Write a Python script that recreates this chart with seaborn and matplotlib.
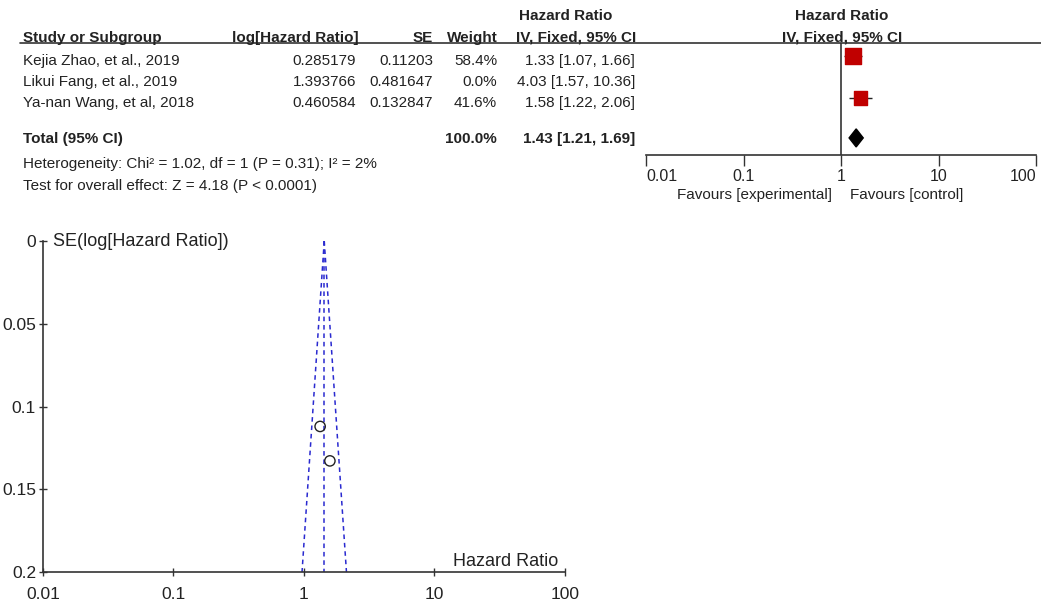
import numpy as np
import pandas as pd
from matplotlib import pyplot as plt
import seaborn as sns

# Study data
studies = ["Kejia Zhao, et al., 2019", "Likui Fang, et al., 2019", "Ya-nan Wang, et al, 2018"]
log_hr = [0.285179, 1.393766, 0.460584]
se = [0.11203, 0.481647, 0.132847]
weights = [58.4, 0.0, 41.6]
hr = [1.33, 4.03, 1.58]
ci_lo = [1.07, 1.57, 1.22]
ci_hi = [1.66, 10.36, 2.06]

# Pooled estimate
total_hr = 1.43
total_lo = 1.21
total_hi = 1.69
total_weight = 100.0
heterogeneity = "Heterogeneity: Chi\u00b2 = 1.02, df = 1 (P = 0.31); I\u00b2 = 2%"
overall_effect = "Test for overall effect: Z = 4.18 (P < 0.0001)"

scale_ticks = [0.01, 0.1, 1, 10, 100]
scale_labels = ["0.01", "0.1", "1", "10", "100"]
se_ticks = [0, 0.05, 0.1, 0.15, 0.2]
se_labels = ["0", "0.05", "0.1", "0.15", "0.2"]

sns.set_style("white")
plt.rcParams['font.family'] = ['Liberation Sans', 'DejaVu Sans']
txt = '#222222'

fig = plt.figure(figsize=(10.41, 6.02), dpi=100)

## Forest plot (top)
rows = [0, 1, 2]
total_row = 3.9
ylims = (4.714, -0.619)

ax_tab = fig.add_axes([0, 0.7425, 1, 0.186])
ax_tab.set_xlim(0, 1041)
ax_tab.set_ylim(*ylims)
ax_tab.axis('off')

ax_f = fig.add_axes([0.6206, 0.7425, 0.3746, 0.186])
ax_f.patch.set_alpha(0)
ax_f.set_xscale('log')
ax_f.set_xlim(0.01, 100)
ax_f.set_ylim(*ylims)

fs = 11
bold = dict(fontsize=fs, fontweight='bold', color=txt)
norm = dict(fontsize=fs, color=txt)

# headers
ax_tab.text(566, -1.9, "Hazard Ratio", ha='center', va='center', **bold)
ax_tab.text(23, -0.86, "Study or Subgroup", ha='left', va='center', **bold)
ax_tab.text(359, -0.86, "log[Hazard Ratio]", ha='right', va='center', **bold)
ax_tab.text(433, -0.86, "SE", ha='right', va='center', **bold)
ax_tab.text(498, -0.86, "Weight", ha='right', va='center', **bold)
ax_tab.text(576, -0.86, "IV, Fixed, 95% CI", ha='center', va='center', **bold)
ax_tab.text(842, -1.9, "Hazard Ratio", ha='center', va='center', **bold)
ax_tab.text(842, -0.86, "IV, Fixed, 95% CI", ha='center', va='center', **bold)
ax_tab.plot([20, 1041], [-0.619, -0.619], color='#333333', lw=1.2, clip_on=False)

# study rows
for r, name, lh, s, w, h, lo, hi in zip(rows, studies, log_hr, se, weights, hr, ci_lo, ci_hi):
    yy = r + 0.24
    ax_tab.text(23, yy, name, ha='left', va='center', **norm)
    ax_tab.text(356, yy, f"{lh:.6f}".rstrip('0'), ha='right', va='center', **norm)
    ax_tab.text(433, yy, f"{s}", ha='right', va='center', **norm)
    ax_tab.text(497, yy, f"{w:.1f}%", ha='right', va='center', **norm)
    ax_tab.text(635, yy, f"{h:.2f} [{lo:.2f}, {hi:.2f}]", ha='right', va='center', **norm)

ty = total_row + 0.05
ax_tab.text(23, ty, "Total (95% CI)", ha='left', va='center', **bold)
ax_tab.text(497, ty, f"{total_weight:.1f}%", ha='right', va='center', **bold)
ax_tab.text(635, ty, f"{total_hr:.2f} [{total_lo:.2f}, {total_hi:.2f}]", ha='right', va='center', **bold)
ax_tab.text(23, 5.15, heterogeneity, ha='left', va='center', **norm)
ax_tab.text(23, 6.19, overall_effect, ha='left', va='center', **norm)

# marks
forest_df = pd.DataFrame({'row': rows, 'hr': hr, 'lo': ci_lo, 'hi': ci_hi, 'w': weights})
shown = forest_df[forest_df['w'] > 0]
ax_f.axvline(1, color='#333333', lw=1.2, zorder=1)
ax_f.hlines(shown['row'], shown['lo'], shown['hi'], color='#222222', lw=1, zorder=2)
ax_f.scatter(shown['hr'], shown['row'], s=shown['w'] * 2.2, marker='s', color='#c00000', zorder=3)
ax_f.fill([total_lo, total_hr, total_hi, total_hr],
          [total_row, total_row - 0.43, total_row, total_row + 0.43], color='black', zorder=3)

for side in ['top', 'left', 'right']:
    ax_f.spines[side].set_visible(False)
ax_f.spines['bottom'].set_color('#333333')
ax_f.spines['bottom'].set_linewidth(1.2)
ax_f.set_yticks([])
ax_f.set_xticks(scale_ticks)
ax_f.set_xticklabels(scale_labels)
ax_f.minorticks_off()
ax_f.tick_params(axis='x', direction='out', length=8, width=1, color='#333333',
                 labelsize=11.5, labelcolor=txt, pad=2, bottom=True)
xt = ax_f.get_xticklabels()
xt[0].set_horizontalalignment('left')
xt[-1].set_horizontalalignment('right')
ax_f.text(0.81, 6.62, "Favours [experimental]", ha='right', va='center', fontsize=11, color=txt)
ax_f.text(1.24, 6.62, "Favours [control]", ha='left', va='center', fontsize=11, color=txt)

## Funnel plot (bottom)
ax_p = fig.add_axes([0.0413, 0.0498, 0.5014, 0.5498])
ax_p.patch.set_alpha(0)
ax_p.set_xscale('log')

se_max = 0.2
se_line = np.array([0, se_max])
ax_p.plot(total_hr * np.exp(-1.96 * se_line), se_line, color='#2a2ad0', lw=1.1, ls=(0, (3, 2.5)))
ax_p.plot(total_hr * np.exp(1.96 * se_line), se_line, color='#2a2ad0', lw=1.1, ls=(0, (3, 2.5)))
ax_p.plot([total_hr, total_hr], se_line, color='#2a2ad0', lw=1.1, ls=(0, (3, 2.5)))

funnel_df = pd.DataFrame({'hr': hr, 'se': se})
sns.scatterplot(data=funnel_df, x='hr', y='se', ax=ax_p, s=55, marker='o',
                facecolor='none', edgecolor='#222222', linewidth=1, zorder=3)

ax_p.set_xlim(0.01, 100)
ax_p.set_ylim(0.2, 0)
ax_p.set_xticks(scale_ticks)
ax_p.set_xticklabels(scale_labels)
ax_p.set_yticks(se_ticks)
ax_p.set_yticklabels(se_labels)
ax_p.minorticks_off()
ax_p.set_xlabel("")
ax_p.set_ylabel("")
for side in ['top', 'right']:
    ax_p.spines[side].set_visible(False)
for side in ['left', 'bottom']:
    ax_p.spines[side].set_color('#333333')
    ax_p.spines[side].set_linewidth(1.2)
ax_p.tick_params(axis='both', direction='inout', length=6, width=1, color='#333333',
                 labelsize=12.5, labelcolor=txt, left=True, bottom=True)
ax_p.tick_params(axis='x', pad=8)
ax_p.tick_params(axis='y', pad=2)
ax_p.text(0.02, 1.0, "SE(log[Hazard Ratio])", transform=ax_p.transAxes,
          ha='left', va='center', fontsize=13, color=txt)
ax_p.text(0.988, 0.033, "Hazard Ratio", transform=ax_p.transAxes,
          ha='right', va='center', fontsize=13, color=txt)

fig.savefig("out.png", dpi=100)
